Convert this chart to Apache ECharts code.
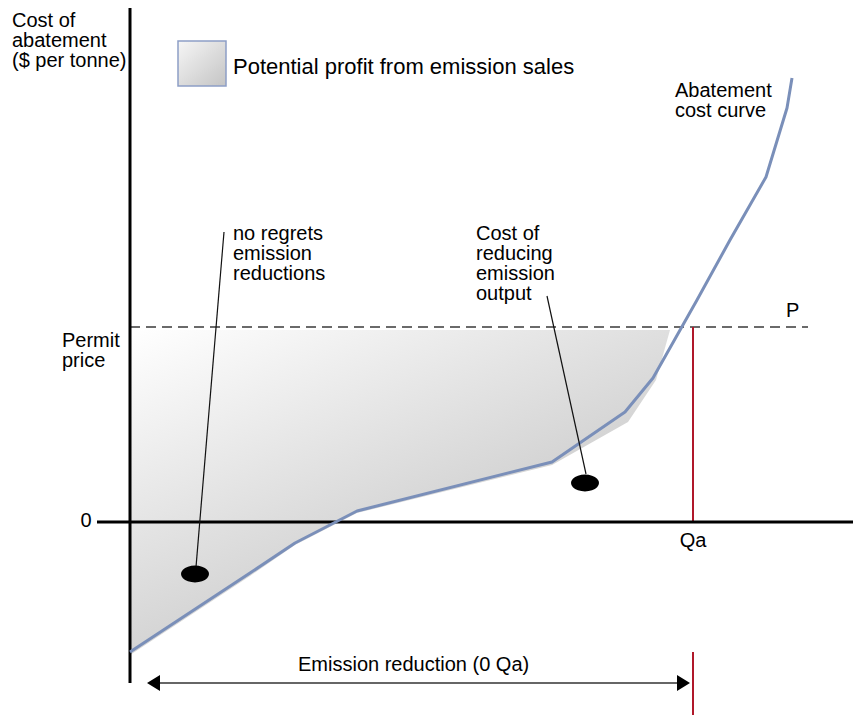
<!DOCTYPE html>
<html><head><meta charset="utf-8">
<script src="https://cdn.jsdelivr.net/npm/echarts@6.0.0/dist/echarts.min.js"></script>
<style>html,body{margin:0;padding:0;background:#fff}#c{width:858px;height:720px}</style>
</head><body><div id="c"></div>
<script>
// ---- data (arbitrary units: x = emission reduction, y = cost of abatement) ----
const curveX = [0, 120, 165, 227, 422, 495, 523, 567, 600, 636, 657, 662];
const curveY = [-130, -51, -21, 11, 60, 110, 144, 222, 282, 345, 414, 444];
const profitX = [0, 540, 526, 498, 422, 227, 165, 120, 0];
const profitY = [192, 192, 142, 100, 57, 9, -23, -54, -133];
const permitPrice = 195;
const permitEnd = 678;
const qa = 563;
const yAxisSpan = [-161, 514];
const xAxisSpan = [-33, 723];
const qaLowerSpan = [-130, -193];
const arrowSpan = [17, 560];
const arrowLevel = -161;
const dotX = [65, 455];
const dotY = [-52, 39];
const leaderFromX = [66, 456], leaderFromY = [-45, 48];
const leaderToX = [94, 417], leaderToY = [290, 226];
const xLabels = ['Qa'];
const yLabels = ['0', 'Permit\nprice', 'P'];

const FONT = '"Liberation Sans", Arial, Helvetica, sans-serif';
const chart = echarts.init(document.getElementById('c'), null, {renderer: 'svg'});

function seg(x1, y1, x2, y2, color, width, type, z) {
  return {type: 'line', data: [[x1, y1], [x2, y2]], symbol: 'none', silent: true, z: z || 3,
    lineStyle: {color: color, width: width, type: type || 'solid', cap: 'butt', opacity: 1}, animation: false};
}

const series = [];
// shaded profit area
series.push({
  type: 'custom', z: 1, silent: true, animation: false,
  data: profitX.map((x, i) => [x, profitY[i]]),
  renderItem: function (params, api) {
    if (params.dataIndex !== 0) return null;
    const pts = profitX.map((x, i) => api.coord([x, profitY[i]]));
    return {type: 'polygon', shape: {points: pts},
      style: {fill: new echarts.graphic.LinearGradient(0, 0, 0.75, 1, [
        {offset: 0, color: '#ffffff'}, {offset: 1, color: '#bcbcbc'}])}};
  }
});
// axes
series.push(seg(0, yAxisSpan[0], 0, yAxisSpan[1], '#000', 3, 'solid', 4));
series.push(seg(xAxisSpan[0], 0, xAxisSpan[1], 0, '#000', 3, 'solid', 4));
// permit price dashed line
series.push(seg(0, permitPrice, permitEnd, permitPrice, '#3a3a3a', 1.3, [10, 6], 3));
// Qa red lines
series.push(seg(qa, permitPrice, qa, 0, '#b0182a', 2, 'solid', 3));
series.push(seg(qa, qaLowerSpan[0], qa, qaLowerSpan[1], '#b0182a', 2, 'solid', 3));
// abatement cost curve
series.push({type: 'line', data: curveX.map((x, i) => [x, curveY[i]]), symbol: 'none', silent: true, z: 5,
  animation: false, lineStyle: {color: '#7a8fb9', width: 3, join: 'round'}});
// leader lines
for (let i = 0; i < leaderFromX.length; i++) {
  series.push(seg(leaderFromX[i], leaderFromY[i], leaderToX[i], leaderToY[i], '#111', 1.2, 'solid', 6));
}
// dots
series.push({type: 'scatter', data: dotX.map((x, i) => [x, dotY[i]]), symbol: 'circle',
  symbolSize: [28, 17], itemStyle: {color: '#000', opacity: 1}, z: 7, silent: true, animation: false});
// double arrow
series.push({
  type: 'custom', z: 6, silent: true, animation: false,
  data: [[arrowSpan[0], arrowLevel], [arrowSpan[1], arrowLevel]],
  renderItem: function (params, api) {
    if (params.dataIndex !== 0) return null;
    const a = api.coord([arrowSpan[0], arrowLevel]);
    const b = api.coord([arrowSpan[1], arrowLevel]);
    const L = 13, H = 8;
    return {type: 'group', children: [
      {type: 'line', shape: {x1: a[0] + L, y1: a[1], x2: b[0] - L, y2: b[1]}, style: {stroke: '#333', lineWidth: 1.5}},
      {type: 'polygon', shape: {points: [[a[0], a[1]], [a[0] + L, a[1] - H], [a[0] + L, a[1] + H]]}, style: {fill: '#000'}},
      {type: 'polygon', shape: {points: [[b[0], b[1]], [b[0] - L, b[1] - H], [b[0] - L, b[1] + H]]}, style: {fill: '#000'}}
    ]};
  }
});

function txt(text, x, y, size, align, vAlign) {
  return {type: 'text', x: x, y: y, silent: true,
    style: {text: text, font: (size || 20) + 'px ' + FONT, fill: '#000', align: align || 'left',
      verticalAlign: vAlign || 'middle', lineHeight: 20}};
}

chart.setOption({
  animation: false,
  backgroundColor: '#fff',
  grid: {left: 0, right: 0, top: 0, bottom: 0, containLabel: false},
  xAxis: {type: 'value', min: -130, max: 728, show: false},
  yAxis: {type: 'value', min: -198, max: 522, show: false},
  series: series,
  graphic: [
    txt('Cost of\nabatement\n($ per tonne)', 12, 40),
    {type: 'rect', shape: {x: 178, y: 41, width: 48, height: 45}, silent: true,
      style: {fill: new echarts.graphic.LinearGradient(0, 0, 1, 1, [
        {offset: 0, color: '#f6f6f6'}, {offset: 1, color: '#c4c4c4'}]), stroke: '#8d9ec6', lineWidth: 1.5}},
    txt('Potential profit from emission sales', 233, 66, 22),
    txt('Abatement\ncost curve', 675, 100),
    txt('no regrets\nemission\nreductions', 233, 253),
    txt('Cost of\nreducing\nemission\noutput', 476, 263),
    txt(yLabels[2], 786, 310),
    txt(yLabels[1], 62, 350),
    txt(yLabels[0], 86, 520, 20, 'center'),
    txt(xLabels[0], 693, 540, 20, 'center'),
    txt('Emission reduction (0 Qa)', 298, 664)
  ]
});
</script></body></html>
